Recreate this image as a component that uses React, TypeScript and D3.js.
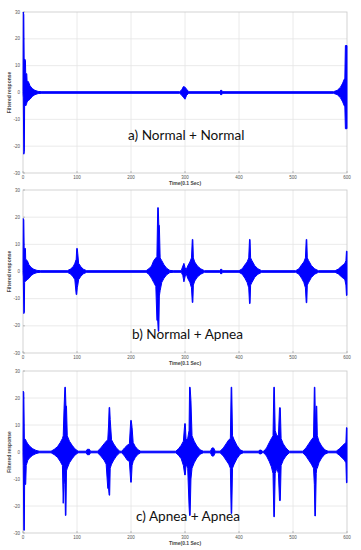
import React from "react";
import * as d3 from "d3";

// envelope of the filtered response: [time (0.1 s), upper, lower]
const envelopeA: [number, number, number][] = [
  [0, 0.3, -0.3], [0.5, 30, -2], [1.5, 29, -23], [2.5, 3, -22], [3, 12.5, -5],
  [4.5, 12, -4.5], [5, 7, -5], [7, 7, -4], [7.5, 4.5, -3.5], [10, 4, -3],
  [13, 2.5, -2.5], [17, 1.5, -1.5], [22, 0.8, -0.8], [28, 0.4, -0.4], [35, 0.3, -0.3],
  [290, 0.3, -0.3], [294, 1, -1], [297, 2.2, -1.8], [300, 2, -2.5], [303, 1.2, -1],
  [307, 0.3, -0.3], [364, 0.3, -0.3], [366, 0.8, -0.8], [368, 0.8, -0.8], [370, 0.3, -0.3],
  [575, 0.3, -0.3], [582, 0.8, -0.8], [588, 2, -2], [592, 3.5, -3.5], [595, 5, -5],
  [596, 5, -5], [597, 17.5, -13.5], [600, 17.5, -13.5],
];

const envelopeB: [number, number, number][] = [
  [0, 0.3, -0.3], [0.5, 19.5, -2], [1.5, 19, -15.5], [2.5, 3, -15], [3, 8.5, -4],
  [4.5, 8.5, -3.5], [5, 4.5, -3.5], [8, 4, -3], [11, 2.5, -2.5], [15, 1.5, -1.5],
  [20, 0.8, -0.8], [26, 0.4, -0.4], [33, 0.3, -0.3],
  [82, 0.3, -0.3], [88, 0.9, -0.9], [93, 1.8, -2], [96, 3, -3], [98.5, 4.5, -8.5],
  [99.5, 8.5, -8.5], [100.5, 8.5, -6], [101.5, 6.5, -5], [103, 3, -3], [107, 1.8, -1.8],
  [112, 0.8, -0.8], [118, 0.3, -0.3],
  [228, 0.3, -0.3], [233, 1, -1], [238, 2, -2.5], [242, 4, -4], [246, 5, -5.5],
  [248, 5.5, -18], [249.5, 23.5, -18], [250.5, 23.5, -22], [251.5, 17, -22], [252.5, 17, -9],
  [254, 5, -7], [257, 4, -4], [261, 2.5, -2.5], [266, 1.2, -1.2], [272, 0.4, -0.4],
  [278, 0.3, -0.3], [293, 0.3, -0.3], [296, 2, -1.5], [298, 3, -3.8], [300, 1.5, -2],
  [302, 0.6, -0.6], [305, 2, -2.5], [309, 3.5, -4], [312, 5, -6], [313.5, 11.8, -11.4],
  [314.5, 11.8, -11.4], [315.5, 5, -5], [318, 3.5, -3.5], [323, 2, -2], [329, 1, -1],
  [336, 0.3, -0.3], [364, 0.3, -0.3], [366, 0.8, -0.8], [368, 0.8, -0.8], [370, 0.3, -0.3],
  [400, 0.3, -0.3], [406, 1, -1], [411, 2.5, -2.5], [415, 3.5, -4], [418, 5, -6],
  [419.5, 11.8, -11.8], [420.5, 11.8, -11.8], [421.5, 5, -5], [424, 4, -4], [429, 2.2, -2.2],
  [435, 1, -1], [442, 0.3, -0.3],
  [505, 0.3, -0.3], [511, 1, -1], [516, 2.5, -2.5], [520, 3.5, -4], [523, 5, -6],
  [524.5, 11.8, -11.5], [525.5, 11.8, -11.5], [526.5, 5, -5], [529, 4, -4], [534, 2.2, -2.2],
  [540, 1, -1], [547, 0.3, -0.3],
  [578, 0.3, -0.3], [584, 0.9, -0.9], [589, 1.8, -1.8], [593, 2.5, -2.5], [596, 3, -3],
  [598, 4, -5], [599, 7.5, -8.8], [600, 7.5, -8.8],
];

const envelopeC: [number, number, number][] = [
  [0, 0.3, -0.3], [0.5, 22.5, -5], [1.5, 22, -29], [2.5, 5, -29], [3, 5, -12],
  [5, 4.5, -12], [6, 4, -5], [9, 3, -3], [13, 2, -2], [18, 1.2, -1.2],
  [24, 0.6, -0.6], [30, 0.3, -0.3],
  [52, 0.3, -0.3], [58, 1, -1], [64, 2, -2], [69, 3.5, -3.5], [73, 5, -5],
  [74.5, 6, -19], [76, 16, -8], [77.5, 24, -12], [78.5, 24, -23.5], [79.5, 17, -23.5],
  [80.5, 17, -7], [82, 6, -6], [86, 4, -4], [91, 2.5, -2.5], [96, 1.2, -1.2], [102, 0.3, -0.3],
  [117, 0.3, -0.3], [119, 1, -1], [123, 1, -1], [125, 0.3, -0.3],
  [138, 0.3, -0.3], [144, 1.5, -1.5], [150, 3, -3], [154, 4, -4.5], [157, 4.5, -13.5],
  [158.5, 10, -13.5], [159.5, 16.5, -16], [160.5, 16.5, -16], [161.5, 12, -6], [164, 4.5, -4.5],
  [168, 3, -3], [173, 1.5, -1.5], [179, 0.3, -0.3],
  [183, 0.3, -0.3], [188, 1.5, -1.5], [193, 2.5, -3], [197, 3, -3.5], [199.5, 11.7, -11.2],
  [200.5, 11.7, -11.2], [202, 9, -5], [204, 3.5, -3.5], [208, 2, -2], [213, 0.8, -0.8],
  [218, 0.3, -0.3],
  [283, 0.3, -0.3], [288, 1.2, -1.2], [293, 2.5, -2.5], [297, 4, -5], [299.5, 10.5, -8.5],
  [300.5, 10.5, -8.5], [302, 4.5, -4.5], [305, 5, -6], [307.5, 8, -20], [308.5, 24, -23.5],
  [309.5, 24, -23.5], [311, 19, -10], [313, 6, -6], [317, 4, -4], [322, 2.2, -2.2],
  [328, 0.8, -0.8], [334, 0.3, -0.3],
  [347, 0.3, -0.3], [350, 1.5, -1.5], [353, 1.5, -1.5], [356, 0.3, -0.3],
  [365, 0.3, -0.3], [371, 1.5, -1.5], [376, 3, -3], [381, 4.5, -4.5], [384, 5, -6],
  [385.5, 24, -22.8], [386.5, 24, -22.8], [388, 6, -6], [391, 4.5, -4.5], [396, 2.5, -2.5],
  [402, 0.8, -0.8], [408, 0.3, -0.3],
  [436, 0.3, -0.3], [438, 0.7, -0.7], [441, 0.7, -0.7], [443, 0.3, -0.3],
  [446, 0.3, -0.3], [451, 1.5, -1.5], [456, 3.5, -3.5], [460, 5, -5.5], [463, 6, -8],
  [464.5, 24, -24], [465.5, 24, -24], [467, 8, -8], [470, 6, -6], [473, 6, -8],
  [475, 16.4, -18], [476.5, 16.4, -18], [478, 5, -5], [482, 3, -3], [487, 1.5, -1.5],
  [493, 0.3, -0.3],
  [518, 0.3, -0.3], [524, 1.5, -1.5], [529, 3, -3], [534, 4.5, -4.5], [538, 5.5, -6],
  [539.5, 24, -12], [540.5, 24, -23.7], [541.5, 10, -23.7], [543, 17, -8], [544, 17, -6],
  [545, 6, -6], [548, 4, -4], [553, 2.2, -2.2], [559, 0.8, -0.8], [565, 0.3, -0.3],
  [580, 0.3, -0.3], [586, 1.2, -1.2], [591, 2.2, -2.2], [595, 3, -3], [598, 3.5, -4],
  [599, 9, -11.4], [600, 9, -11.4],
];

const xTicks = [0, 100, 200, 300, 400, 500, 600];
const yTicks = [-30, -20, -10, 0, 10, 20, 30];
const captions = ["a) Normal + Normal", "b) Normal + Apnea", "c) Apnea + Apnea"];
const envelopes = [envelopeA, envelopeB, envelopeC];

const W = 361;
const H = 550;
const left = 23;
const right = 347;
const tops = [12, 190, 371];
const bottoms = [173, 353, 533];
const captionPos = [[128, 140], [132, 339], [136, 521]];

function Panel({ idx }: { idx: number }) {
  const top = tops[idx];
  const bottom = bottoms[idx];
  const x = d3.scaleLinear().domain([0, 600]).range([left, right]);
  const y = d3.scaleLinear().domain([-30, 30]).range([bottom, top]);
  const area = d3
    .area<[number, number, number]>()
    .x((d) => x(d[0]))
    .y0((d) => y(d[2]))
    .y1((d) => y(d[1]));
  const tickFont = { fontFamily: "Arial, Liberation Sans, sans-serif", fontSize: 4.5, fill: "#555" };
  return (
    <g>
      <rect x={left} y={top} width={right - left} height={bottom - top} fill="#fff" />
      {xTicks.slice(1, -1).map((t) => (
        <line key={"gx" + t} x1={x(t)} x2={x(t)} y1={top} y2={bottom} stroke="#e4e4e4" strokeWidth={0.8} />
      ))}
      {yTicks.slice(1, -1).map((t) => (
        <line key={"gy" + t} x1={left} x2={right} y1={y(t)} y2={y(t)} stroke="#e4e4e4" strokeWidth={0.8} />
      ))}
      <rect x={left} y={top} width={right - left} height={bottom - top} fill="none" stroke="#c8c8c8" strokeWidth={0.8} />
      {xTicks.map((t) => (
        <g key={"tx" + t}>
          <line x1={x(t)} x2={x(t)} y1={bottom} y2={bottom - 2} stroke="#999" strokeWidth={0.6} />
          <text x={x(t)} y={bottom + 6} textAnchor="middle" {...tickFont}>{t}</text>
        </g>
      ))}
      {yTicks.map((t) => (
        <g key={"ty" + t}>
          <line x1={left} x2={left + 2} y1={y(t)} y2={y(t)} stroke="#999" strokeWidth={0.6} />
          <text x={left - 3} y={y(t) + 1.5} textAnchor="end" {...tickFont}>{t}</text>
        </g>
      ))}
      <path d={area(envelopes[idx]) || ""} fill="#0000ff" stroke="#0000ff" strokeWidth={1} strokeLinejoin="round" />
      <text x={(left + right) / 2} y={bottom + 12} textAnchor="middle" fontFamily="Arial, Liberation Sans, sans-serif" fontSize={5} fontWeight="bold" fill="#444">
        Time(0.1 Sec)
      </text>
      <text
        transform={`translate(11,${(top + bottom) / 2}) rotate(-90)`}
        textAnchor="middle"
        fontFamily="Arial, Liberation Sans, sans-serif"
        fontSize={5}
        fontWeight="bold"
        fill="#444"
      >
        Filtered response
      </text>
      <text x={captionPos[idx][0]} y={captionPos[idx][1]} fontFamily="Lato, Open Sans, sans-serif" fontSize={13.6} fill="#111">
        {captions[idx]}
      </text>
    </g>
  );
}

export default function App() {
  return (
    <div style={{ position: "absolute", left: 0, top: 0 }}>
      <svg width={W} height={H} style={{ display: "block", background: "#fff" }}>
        {[0, 1, 2].map((i) => (
          <Panel key={i} idx={i} />
        ))}
      </svg>
    </div>
  );
}
